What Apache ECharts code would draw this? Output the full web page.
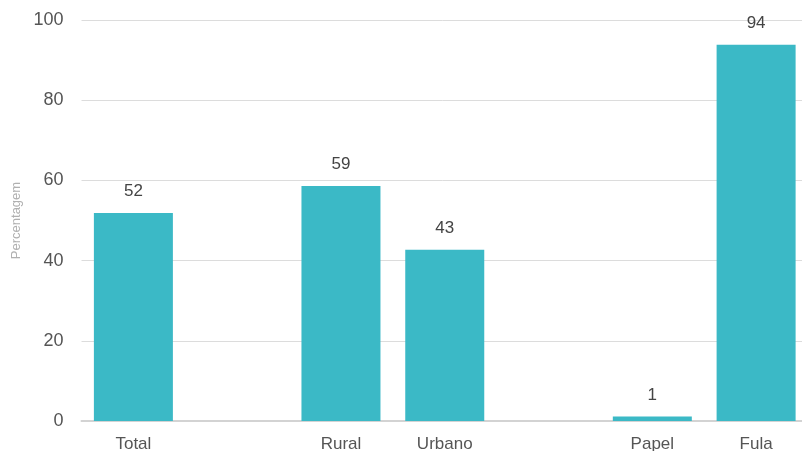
<!DOCTYPE html>
<html><head><meta charset="utf-8">
<script src="https://cdn.jsdelivr.net/npm/echarts@6/dist/echarts.min.js"></script>
<style>html,body{margin:0;padding:0;background:#fff}#c{width:802px;height:451px}</style>
</head><body><div id="c"></div>
<script>
const categories = ['Total', '', 'Rural', 'Urbano', '', 'Papel', 'Fula'];
const values = [51.9, null, 58.6, 42.7, null, 1.1, 93.8];
const yTicks = [0, 20, 40, 60, 80, 100];
const yTitle = 'Percentagem';

const chart = echarts.init(document.getElementById('c'));
chart.setOption({
  animation: false,
  textStyle: { fontFamily: 'Liberation Sans' },
  grid: { left: 81.5, width: 726.5, top: 20, bottom: 30, containLabel: false, outerBoundsMode: 'none' },
  xAxis: {
    type: 'category', data: categories,
    axisLine: { lineStyle: { color: '#d3d3d3', width: 2 } },
    axisTick: { show: false },
    axisLabel: { color: '#555', fontSize: 17, margin: 15, interval: 0 }
  },
  yAxis: {
    type: 'value', min: yTicks[0], max: yTicks[yTicks.length - 1], interval: 20,
    name: yTitle, nameLocation: 'middle', nameGap: 59,
    nameTextStyle: { color: '#b0b0b0', fontSize: 13 },
    axisLine: { show: false }, axisTick: { show: false },
    axisLabel: { color: '#555', fontSize: 18, margin: 18 },
    splitLine: { lineStyle: { color: '#dcdcdc', width: 1 } }
  },
  series: [{
    type: 'bar', data: values, barWidth: 79,
    itemStyle: { color: '#3bb9c6' },
    label: { show: true, position: 'top', distance: 13, color: '#444', fontSize: 17,
      formatter: p => Math.round(p.value) }
  }]
});
</script></body></html>
